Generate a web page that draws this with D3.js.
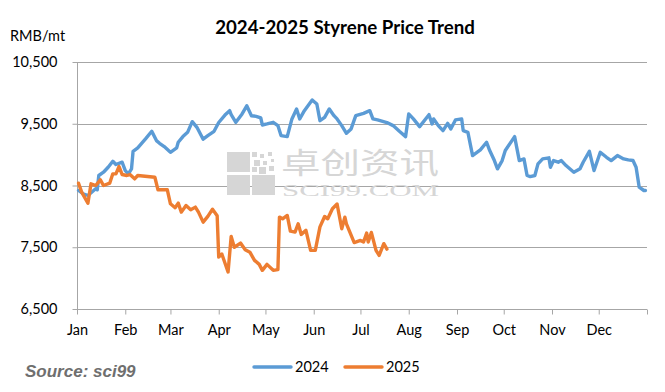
<!DOCTYPE html>
<html>
<head>
<meta charset="utf-8">
<script src="https://cdn.jsdelivr.net/npm/d3@7"></script>
<style>
  html, body { margin: 0; padding: 0; background: #fff; }
  svg { display: block; }
</style>
</head>
<body>
<svg id="chart" width="665" height="392"></svg>
<script>
// ---------- DATA ----------
const months = ["Jan","Feb","Mar","Apr","May","Jun","Jul","Aug","Sep","Oct","Nov","Dec"];
const yTicks = [6500, 7500, 8500, 9500, 10500];
const seriesNames = ["2024", "2025"];

const dates2024 = ["01-02","01-05","01-08","01-13","01-14","01-15","01-18","01-21","01-24","01-26","01-30",
  "02-01","02-03","02-05","02-06","02-09","02-14","02-18","02-21","02-23","02-26",
  "03-01","03-05","03-06","03-09","03-12","03-15","03-18","03-22","03-25","03-29",
  "04-01","04-05","04-08","04-09","04-12","04-16","04-19","04-22","04-25","04-28","04-29",
  "05-02","05-06","05-09","05-11","05-15","05-18","05-21","05-23","05-26","05-31",
  "06-03","06-05","06-08","06-11","06-14","06-16","06-19","06-22","06-25","06-28",
  "07-03","07-07","07-09","07-12","07-18","07-22","07-26","07-30",
  "08-01","08-04","08-08","08-14","08-16","08-17","08-20","08-23","08-26","08-28","08-31",
  "09-04","09-05","09-08","09-11","09-16","09-20","09-22","09-25","09-27","09-30",
  "10-02","10-08","10-11","10-14","10-16","10-18","10-21","10-23","10-26","10-30","10-31",
  "11-02","11-05","11-07","11-10","11-15","11-19","11-21","11-25","11-28",
  "12-02","12-06","12-09","12-13","12-17","12-20","12-23","12-25","12-27","12-30","12-31"];
const values2024 = [8420,8366,8338,8447,8430,8662,8715,8796,8893,8840,8877,
  8742,8689,8770,9054,9109,9255,9378,9227,9184,9130,
  9038,9109,9200,9292,9361,9534,9442,9250,9308,9378,
  9520,9640,9712,9647,9523,9659,9790,9630,9620,9594,9480,
  9497,9523,9470,9308,9292,9578,9740,9578,9712,9885,
  9820,9550,9604,9740,9631,9578,9470,9345,9416,9631,
  9668,9712,9578,9562,9520,9470,9378,9292,
  9659,9578,9453,9647,9497,9578,9470,9389,9507,9416,9562,
  9578,9389,9361,8985,9077,9200,9066,8904,8770,8904,
  9066,9292,8904,8931,8662,8645,8662,8851,8931,8948,8796,
  8904,8877,8904,8823,8715,8770,8877,9054,8742,
  9038,8957,8904,8985,8931,8915,8904,8796,8473,8419,8419];

const dates2025 = ["01-02","01-04","01-08","01-10","01-13","01-16","01-18","01-22","01-24","01-26","01-28","01-30",
  "02-02","02-04","02-07","02-09","02-20","02-22","02-28",
  "03-01","03-04","03-06","03-08","03-11","03-14","03-17","03-19","03-22","03-25","03-28","03-31",
  "04-01","04-03","04-07","04-09","04-11","04-15","04-18","04-21","04-24","04-27","04-29",
  "05-02","05-06","05-09","05-10","05-12","05-15","05-17","05-20","05-22","05-24","05-27","05-30",
  "06-02","06-05","06-08","06-10","06-13","06-16","06-19","06-21","06-22","06-27",
  "07-01","07-03","07-05","07-06","07-08","07-11","07-13","07-16","07-18"];
const values2025 = [8537,8392,8214,8527,8500,8592,8500,8537,8689,8689,8807,8678,
  8662,8678,8608,8662,8634,8430,8430,
  8204,8140,8214,8069,8177,8107,8150,8069,7907,8000,8115,8010,
  7341,7390,7099,7676,7500,7568,7460,7420,7288,7223,7126,
  7223,7126,7138,7988,7961,8015,7761,7745,7881,7708,7773,7450,
  7450,7830,7999,7961,8123,8200,7800,7988,7880,7576,
  7611,7584,7729,7584,7740,7450,7369,7558,7470];

// ---------- LAYOUT / STYLE ----------
const W = 665, H = 392;
const M = { left: 77, right: 647, top: 62, bottom: 309 };
const colors = { "2024": "#5b9bd5", "2025": "#ed7d31" };
const gridColor = "#a6a6a6";
const FONT = "Lato, 'Open Sans', sans-serif";

const svg = d3.select("#chart");
svg.append("rect").attr("width", W).attr("height", H).attr("fill", "#fff");

// plot everything on a common month-day axis (leap-year base)
const toDate = s => { const [m, d] = s.split("-").map(Number); return new Date(2024, m - 1, d); };

const x = d3.scaleTime()
  .domain([new Date(2024, 0, 1), new Date(2025, 0, 1)])
  .range([M.left, M.right]);
const y = d3.scaleLinear()
  .domain([d3.min(yTicks), d3.max(yTicks)])
  .range([M.bottom, M.top]);

// gridlines
svg.append("g").selectAll("line").data(yTicks).join("line")
  .attr("x1", M.left).attr("x2", M.right)
  .attr("y1", d => Math.round(y(d)) + 0.5).attr("y2", d => Math.round(y(d)) + 0.5)
  .attr("stroke", gridColor).attr("stroke-width", 1);

// watermark
const wm = svg.append("g").attr("fill", "#d6d6d6");
const lx = 227, ly = 152;
wm.append("rect").attr("x", lx).attr("y", ly).attr("width", 23).attr("height", 20);
wm.append("rect").attr("x", lx).attr("y", ly + 23).attr("width", 23).attr("height", 20);
wm.append("rect").attr("x", lx + 25).attr("y", ly + 23).attr("width", 23).attr("height", 20);
[[25,0,5],[33,2,4],[41,0,4],[27,8,6],[36,9,4],[44,7,3],[25,15,5],[32,15,7],[42,14,5]].forEach(([dx, dy, s]) =>
  wm.append("rect").attr("x", lx + dx).attr("y", ly + dy).attr("width", s).attr("height", s));
wm.append("text").attr("x", 281).attr("y", 174)
  .attr("font-family", "'Noto Sans CJK SC', sans-serif").attr("font-size", 29)
  .attr("textLength", 158).attr("lengthAdjust", "spacingAndGlyphs")
  .text("卓创资讯");
wm.append("text").attr("x", 282).attr("y", 196)
  .attr("font-family", "'Liberation Serif', 'DejaVu Serif', serif").attr("font-size", 17)
  .attr("textLength", 157).attr("lengthAdjust", "spacingAndGlyphs")
  .text("SCI99.COM");

// axes
const yAxis = d3.axisLeft(y).tickValues(yTicks).tickFormat(d3.format(",")).tickSize(5).tickPadding(15);
const gy = svg.append("g").attr("transform", `translate(${M.left + 0.5},0)`).call(yAxis);
gy.select(".domain").attr("stroke", gridColor).attr("d", `M0,${M.top}V${M.bottom + 0.5}`);
gy.selectAll(".tick line").attr("stroke", gridColor);
gy.selectAll(".tick text").attr("font-family", FONT).attr("font-size", 14.5).attr("fill", "#000");

const monthStarts = d3.timeMonth.range(new Date(2024, 0, 1), new Date(2025, 0, 1));
const xAxis = d3.axisBottom(x).tickValues(monthStarts.concat([new Date(2025, 0, 1)]))
  .tickFormat((d, i) => months[i] || "").tickSize(5).tickPadding(10);
const gx = svg.append("g").attr("transform", `translate(0,${Math.round(y(yTicks[0])) + 0.5})`).call(xAxis);
gx.select(".domain").attr("stroke", gridColor).attr("d", `M${M.left},0H${M.right}`);
gx.selectAll(".tick line").attr("stroke", gridColor);
gx.selectAll(".tick text").attr("font-family", FONT).attr("font-size", 14.5).attr("fill", "#000");

// lines
const line = d3.line().x(d => x(d.date)).y(d => y(d.value)).curve(d3.curveLinear);
const series = [
  { name: "2024", data: dates2024.map((d, i) => ({ date: toDate(d), value: values2024[i] })) },
  { name: "2025", data: dates2025.map((d, i) => ({ date: toDate(d), value: values2025[i] })) }
];
svg.append("g").selectAll("path").data(series).join("path")
  .attr("d", d => line(d.data))
  .attr("fill", "none")
  .attr("stroke", d => colors[d.name])
  .attr("stroke-width", 3.4)
  .attr("stroke-linejoin", "round")
  .attr("stroke-linecap", "round");

// title
const title = svg.append("text").attr("x", 345).attr("y", 34).attr("text-anchor", "middle")
  .attr("font-family", FONT).attr("font-weight", "bold").attr("font-size", 17).attr("fill", "#000")
  .text("2024-2025 Styrene Price Trend");
const tw = title.node().getComputedTextLength();
title.attr("font-size", 17 * 260 / tw);

// unit label
svg.append("text").attr("x", 10).attr("y", 41)
  .attr("font-family", FONT).attr("font-size", 14.5).attr("fill", "#000").text("RMB/mt");

// legend
const legend = svg.append("g");
const legendItems = [
  { name: seriesNames[0], x0: 254 },
  { name: seriesNames[1], x0: 345 }
];
legendItems.forEach(it => {
  legend.append("line").attr("x1", it.x0).attr("x2", it.x0 + 37).attr("y1", 367).attr("y2", 367)
    .attr("stroke", colors[it.name]).attr("stroke-width", 3.4).attr("stroke-linecap", "round");
  legend.append("text").attr("x", it.x0 + 41).attr("y", 372)
    .attr("font-family", FONT).attr("font-size", 14.5).attr("fill", "#000").text(it.name);
});

// source
svg.append("text").attr("x", 25).attr("y", 377)
  .attr("font-family", "'Liberation Sans', Arial, sans-serif").attr("font-weight", "bold")
  .attr("font-style", "italic").attr("font-size", 17).attr("fill", "#6f6f6f")
  .text("Source: sci99");
</script>
</body>
</html>
